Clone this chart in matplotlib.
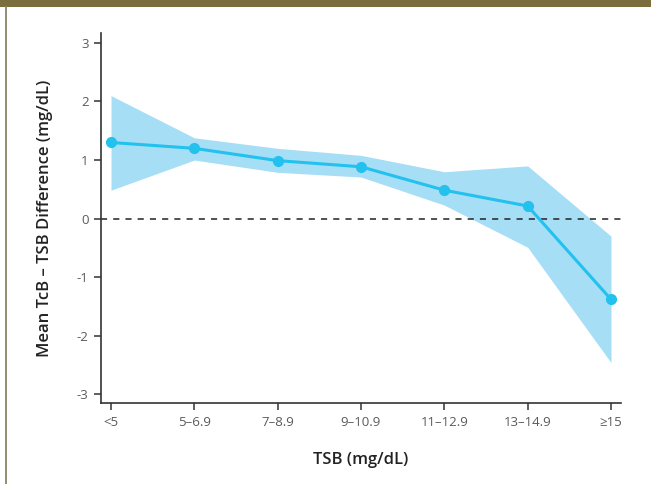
import matplotlib
matplotlib.use("Agg")
import matplotlib.pyplot as plt
from matplotlib.patches import Rectangle
from matplotlib.lines import Line2D
from matplotlib.ticker import FuncFormatter

categories = ["<5", "5–6.9", "7–8.9", "9–10.9", "11–12.9", "13–14.9", "≥15"]
mean_diff = [1.3, 1.2, 0.99, 0.885, 0.485, 0.215, -1.38]
ci_upper = [2.1, 1.38, 1.2, 1.08, 0.8, 0.9, -0.30]
ci_lower = [0.485, 1.0, 0.79, 0.71, 0.23, -0.49, -2.46]
y_ticks = [-3, -2, -1, 0, 1, 2, 3]

W, H = 651, 484
fig = plt.figure(figsize=(W / 100, H / 100), dpi=100)
plt.rcParams['font.family'] = ['Open Sans', 'DejaVu Sans']

# frame decorations
fig.patches.append(Rectangle((0, 1 - 7 / H), 1, 7 / H, transform=fig.transFigure,
                             facecolor="#7b6d3c", edgecolor="none"))
fig.lines.append(Line2D([5.5 / W, 5.5 / W], [0, 1 - 7 / H], transform=fig.transFigure,
                        color="#8c8466", linewidth=1.3))

ax = fig.add_axes([101 / W, 81 / H, 520 / W, 370 / H])
x = list(range(len(categories)))

ax.fill_between(x, ci_lower, ci_upper, color="#a6def6", linewidth=0, zorder=1)
ax.axhline(0, color="#222222", linestyle=(0, (4, 4)), linewidth=1.1, zorder=2)
ax.plot(x, mean_diff, color="#22c1ee", linewidth=2.2, marker="o", markersize=7,
        zorder=3)

ax.set_xlim(-0.12, 6.12)
ax.set_ylim(-3.15, 3.17)
ax.set_xticks(x)
ax.set_xticklabels(categories)
ax.set_yticks(y_ticks)
ax.yaxis.set_major_formatter(FuncFormatter(lambda v, p: f"{int(v)}".replace("−", "-")))

for s in ["top", "right"]:
    ax.spines[s].set_visible(False)
for s in ["left", "bottom"]:
    ax.spines[s].set_color("#333333")
    ax.spines[s].set_linewidth(1.2)

ax.tick_params(axis="both", direction="out", length=5, width=1.1, color="#333333",
               labelcolor="#5a5a5a", labelsize=9.5, pad=4)

ax.set_xlabel("TSB (mg/dL)", fontsize=12, fontweight="semibold", color="#222222", labelpad=17)
ax.set_ylabel("Mean TcB – TSB Difference (mg/dL)", fontsize=12, fontweight="semibold",
              color="#222222", labelpad=17)

fig.savefig("out.png", dpi=100)
